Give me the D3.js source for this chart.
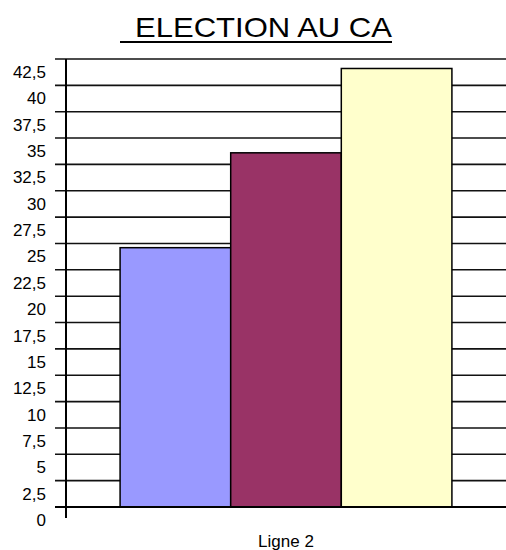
<!DOCTYPE html>
<html>
<head>
<meta charset="utf-8">
<script src="https://cdn.jsdelivr.net/npm/d3@7"></script>
<style>
  body { margin: 0; background: #fff; }
  svg { display: block; font-family: "Liberation Sans", Arial, sans-serif; }
</style>
</head>
<body>
<div id="chart"></div>
<script>
const categories = ['Ligne 2'];
const seriesNames = ['Série 1', 'Série 2', 'Série 3'];
const seriesValues = [24.6, 33.6, 41.6];
const seriesColors = ['#9999ff', '#993366', '#ffffcc'];
const tickValues = [0, 2.5, 5, 7.5, 10, 12.5, 15, 17.5, 20, 22.5, 25, 27.5, 30, 32.5, 35, 37.5, 40, 42.5];

const width = 506, height = 550;
const margin = { top: 59, right: 0, bottom: 43, left: 66 };

const svg = d3.select('#chart').append('svg')
  .attr('width', width)
  .attr('height', height);

// Title (underline drawn as a line so it covers the leading space too)
svg.append('text')
  .attr('x', 135)
  .attr('y', 37)
  .attr('font-size', 28)
  .attr('textLength', 257)
  .attr('lengthAdjust', 'spacingAndGlyphs')
  .text('ELECTION AU CA');

svg.append('line')
  .attr('x1', 120)
  .attr('x2', 392)
  .attr('y1', 42)
  .attr('y2', 42)
  .attr('stroke', '#000')
  .attr('stroke-width', 2);

const y = d3.scaleLinear()
  .domain([0, 42.5])
  .range([height - margin.bottom, margin.top]);

const x0 = d3.scaleBand()
  .domain(categories)
  .range([margin.left, width - margin.right])
  .paddingInner(0)
  .paddingOuter(0.163);

const x1 = d3.scaleBand()
  .domain(seriesNames)
  .range([0, x0.bandwidth()]);

// Gridlines (with small tick stubs left of axis)
svg.append('g')
  .selectAll('line')
  .data(tickValues)
  .join('line')
  .attr('x1', margin.left - 11)
  .attr('x2', width - margin.right)
  .attr('y1', d => y(d))
  .attr('y2', d => y(d))
  .attr('stroke', '#111')
  .attr('stroke-width', 1.6);

// Tick labels (drawn below their lines, as in the original)
svg.append('g')
  .selectAll('text')
  .data(tickValues)
  .join('text')
  .attr('x', 46)
  .attr('y', d => y(d) + 19)
  .attr('text-anchor', 'end')
  .attr('font-size', 17)
  .attr('fill', '#000')
  .text(d => d3.format('.1~f')(d).replace('.', ','));

// Bars
const group = svg.append('g')
  .selectAll('g')
  .data(categories)
  .join('g')
  .attr('transform', d => `translate(${x0(d)},0)`);

group.selectAll('rect')
  .data(() => seriesNames.map((s, i) => ({ s, v: seriesValues[i], c: seriesColors[i] })))
  .join('rect')
  .attr('x', d => x1(d.s))
  .attr('width', x1.bandwidth())
  .attr('y', d => y(d.v))
  .attr('height', d => y(0) - y(d.v))
  .attr('fill', d => d.c)
  .attr('stroke', '#000')
  .attr('stroke-width', 1.5);

// Y axis line
svg.append('line')
  .attr('x1', margin.left)
  .attr('x2', margin.left)
  .attr('y1', margin.top)
  .attr('y2', y(0) + 11)
  .attr('stroke', '#000')
  .attr('stroke-width', 2);

// X axis line
svg.append('line')
  .attr('x1', margin.left - 11)
  .attr('x2', width)
  .attr('y1', y(0))
  .attr('y2', y(0))
  .attr('stroke', '#000')
  .attr('stroke-width', 2);

// Category label
svg.append('g')
  .selectAll('text')
  .data(categories)
  .join('text')
  .attr('x', d => x0(d) + x0.bandwidth() / 2)
  .attr('y', 547)
  .attr('text-anchor', 'middle')
  .attr('font-size', 17)
  .text(d => d);
</script>
</body>
</html>
